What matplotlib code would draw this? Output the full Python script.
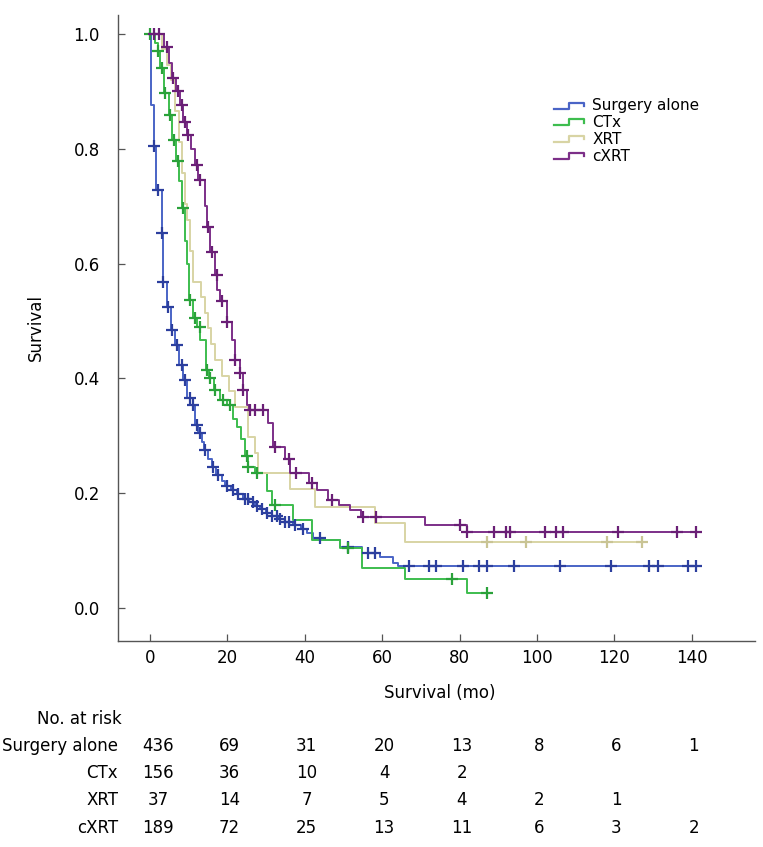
import numpy as np
import matplotlib
matplotlib.use('Agg')
import matplotlib.pyplot as plt
from matplotlib.lines import Line2D
from matplotlib.legend_handler import HandlerBase
import matplotlib.transforms as mtransforms

# Kaplan-Meier steps (time in months, survival after drop)
surgery_t = [0, 0.3, 1.0, 1.6, 3.0, 3.4, 4.5, 5.5, 6.5, 7.5, 8.5, 9.5, 11.0, 11.5, 12.5,
             13.5, 14.0, 15.0, 16.0, 17.0, 18.5, 19.5, 21.0, 22.5, 24.0, 25.5, 27.0, 28.5,
             30.0, 31.5, 33.0, 35.0, 37.0, 39.0, 40.5, 42.0, 45.0, 49.0, 54.7, 59.4, 62.9,
             64.0, 142.0]
surgery_s = [1.0, 0.876, 0.804, 0.728, 0.653, 0.568, 0.525, 0.484, 0.458, 0.423, 0.397,
             0.365, 0.354, 0.319, 0.304, 0.29, 0.275, 0.26, 0.246, 0.232, 0.222, 0.212,
             0.205, 0.198, 0.19, 0.185, 0.178, 0.172, 0.166, 0.16, 0.155, 0.15, 0.144,
             0.137, 0.13, 0.122, 0.118, 0.107, 0.096, 0.089, 0.078, 0.073, 0.073]
surgery_cens = [1.0, 2.1, 3.0, 3.4, 4.7, 5.6, 6.9, 8.2, 9.0, 10.3, 11.2, 12.1, 12.9, 14.2,
                16.4, 17.6, 19.8, 21.5, 22.8, 24.5, 25.4, 26.5, 27.6, 29.0, 30.1, 31.5,
                32.7, 33.6, 35.0, 36.0, 37.5, 39.6, 43.9, 51.2, 56.4, 58.0, 66.9, 72.1,
                73.9, 80.9, 85.0, 87.1, 94.0, 105.9, 119.1, 128.9, 131.2, 139.0, 141.0]

ctx_t = [0, 1.3, 2.0, 2.6, 3.5, 4.8, 5.8, 6.8, 7.5, 8.3, 9.0, 9.6, 10.0, 11.2, 12.2, 13.0,
         14.5, 15.3, 16.5, 18.0, 20.0, 21.5, 22.5, 23.5, 24.5, 25.2, 27.0, 30.1, 31.5,
         37.0, 41.8, 49.0, 54.7, 65.9, 81.8, 87.1]
ctx_s = [1.0, 0.985, 0.97, 0.94, 0.897, 0.859, 0.815, 0.778, 0.743, 0.696, 0.64, 0.60,
         0.537, 0.505, 0.49, 0.467, 0.415, 0.40, 0.38, 0.362, 0.354, 0.33, 0.316, 0.294,
         0.264, 0.246, 0.235, 0.203, 0.18, 0.153, 0.118, 0.104, 0.07, 0.05, 0.026, 0.026]
ctx_cens = [0.0, 2.0, 3.0, 3.9, 5.2, 6.3, 7.3, 8.6, 10.3, 11.6, 12.9, 14.6, 15.5, 16.8,
            18.9, 20.7, 25.0, 25.4, 27.6, 32.3, 51.2, 78.0, 87.1]

xrt_t = [0, 3.0, 4.5, 5.5, 6.5, 7.5, 8.3, 9.0, 9.5, 10.3, 11.2, 13.3, 14.2, 15.0, 15.8,
         16.8, 18.5, 20.5, 22.0, 25.4, 27.1, 28.0, 36.2, 42.6, 58.1, 65.9, 127.1]
xrt_s = [1.0, 0.973, 0.946, 0.919, 0.865, 0.811, 0.757, 0.703, 0.676, 0.622, 0.568,
         0.541, 0.514, 0.487, 0.46, 0.432, 0.405, 0.378, 0.351, 0.297, 0.27, 0.235,
         0.208, 0.176, 0.148, 0.115, 0.115]
xrt_cens = [87.0, 97.1, 118.0, 127.1]

cxrt_t = [0, 3.5, 5.0, 5.6, 6.8, 7.8, 8.6, 9.5, 10.5, 11.5, 12.5, 14.2, 14.8, 15.5, 16.8,
          17.4, 18.2, 20.0, 21.1, 22.0, 23.3, 24.1, 25.0, 25.6, 30.5, 31.9, 34.9, 36.2,
          41.0, 43.1, 46.0, 48.7, 51.7, 54.5, 71.0, 81.8, 141.3]
cxrt_s = [1.0, 0.978, 0.95, 0.923, 0.90, 0.876, 0.847, 0.824, 0.80, 0.772, 0.746, 0.70,
          0.664, 0.62, 0.58, 0.554, 0.534, 0.499, 0.467, 0.432, 0.409, 0.38, 0.354,
          0.345, 0.322, 0.281, 0.26, 0.235, 0.217, 0.206, 0.188, 0.18, 0.171, 0.159,
          0.145, 0.133, 0.133]
cxrt_cens = [1.0, 2.3, 4.5, 6.0, 7.3, 8.2, 9.0, 9.9, 12.1, 12.9, 15.1, 15.9, 17.2, 18.5,
             20.0, 22.0, 23.3, 24.1, 25.8, 27.1, 29.3, 32.3, 35.9, 37.6, 41.8, 46.9, 55.0,
             58.5, 80.1, 81.9, 88.9, 92.0, 93.0, 102.0, 104.9, 106.7, 120.9, 136.1, 141.0]

group_names = ['Surgery alone', 'CTx', 'XRT', 'cXRT']
risk_times = [0, 20, 40, 60, 80, 100, 120, 140]
risk_surgery = [436, 69, 31, 20, 13, 8, 6, 1]
risk_ctx = [156, 36, 10, 4, 2]
risk_xrt = [37, 14, 7, 5, 4, 2, 1]
risk_cxrt = [189, 72, 25, 13, 11, 6, 3, 2]

line_colors = ['#4a64c6', '#3dbd4e', '#d8d4a4', '#7c2f88']
mark_colors = ['#2c3f9e', '#2aa23a', '#c9c494', '#6a1f76']


class HandlerStep(HandlerBase):
    def create_artists(self, legend, orig_handle, xdescent, ydescent,
                       width, height, fontsize, trans):
        xs = np.array([0, 0.45, 0.45, 0.88, 0.88]) * width - xdescent
        ys = np.array([0.15, 0.15, 0.7, 0.7, 0.4]) * height - ydescent
        ln = Line2D(xs, ys, color=orig_handle.get_color(), lw=1.6)
        ln.set_transform(trans)
        return [ln]


def km_value(t, s, c):
    idx = np.searchsorted(np.asarray(t), np.asarray(c), side='right') - 1
    return np.asarray(s)[np.clip(idx, 0, len(s) - 1)]


plt.rcParams['font.family'] = ['DejaVu Sans']

fig = plt.figure(figsize=(7.63, 8.47), dpi=100)
ax = fig.add_axes([118 / 763, 1 - 641 / 847, (755 - 118) / 763, (641 - 15) / 847])

curves = [(surgery_t, surgery_s, surgery_cens),
          (ctx_t, ctx_s, ctx_cens),
          (xrt_t, xrt_s, xrt_cens),
          (cxrt_t, cxrt_s, cxrt_cens)]

handles = []
for i, (t, s, c) in enumerate(curves):
    h, = ax.step(t, s, where='post', color=line_colors[i], lw=1.4, label=group_names[i])
    handles.append(h)
for i, (t, s, c) in enumerate(curves):
    ax.plot(c, km_value(t, s, c), linestyle='none', marker='+', markersize=9,
            markeredgewidth=1.6, color=mark_colors[i])

ax.set_xlim(-8.27, 156.3)
ax.set_ylim(-0.0575, 1.033)
ax.set_xticks(risk_times)
ax.set_yticks([0.0, 0.2, 0.4, 0.6, 0.8, 1.0])
ax.set_yticklabels(['0.0', '0.2', '0.4', '0.6', '0.8', '1.0'])
for side in ['top', 'right']:
    ax.spines[side].set_visible(False)
for side in ['left', 'bottom']:
    ax.spines[side].set_color('#555555')
    ax.spines[side].set_linewidth(1.0)
ax.tick_params(direction='in', length=5, width=0.9, color='#555555', labelsize=12)
ax.tick_params(axis='x', pad=6)
ax.tick_params(axis='y', pad=13)

ax.set_xlabel('Survival (mo)', fontsize=12)
ax.xaxis.set_label_coords(0.505, -0.068)
ax.set_ylabel('Survival', fontsize=12)
ax.yaxis.set_label_coords(-0.115, 0.5)

leg = ax.legend(handles, group_names, handler_map={Line2D: HandlerStep()},
                loc='upper left', bbox_to_anchor=(430 / 637, 1 - 77 / 626),
                frameon=False, fontsize=11, handlelength=2.2, handletextpad=0.3,
                labelspacing=0.12, borderaxespad=0)

# Number-at-risk table
tr = mtransforms.blended_transform_factory(ax.transData, fig.transFigure)
row_y = [1 - 746 / 847, 1 - 773 / 847, 1 - 800 / 847, 1 - 828 / 847]
fig.text(122 / 763, 1 - 719 / 847, 'No. at risk', ha='right', va='center', fontsize=12)
risk_rows = [risk_surgery, risk_ctx, risk_xrt, risk_cxrt]
for j, name in enumerate(group_names):
    fig.text(118 / 763, row_y[j], name, ha='right', va='center', fontsize=12)
    for k, n in enumerate(risk_rows[j]):
        off = 2.0 if k == 0 else 0.5
        ax.text(risk_times[k] + off, row_y[j], str(n), transform=tr,
                ha='center', va='center', fontsize=12)

fig.savefig('out.png', dpi=100)
